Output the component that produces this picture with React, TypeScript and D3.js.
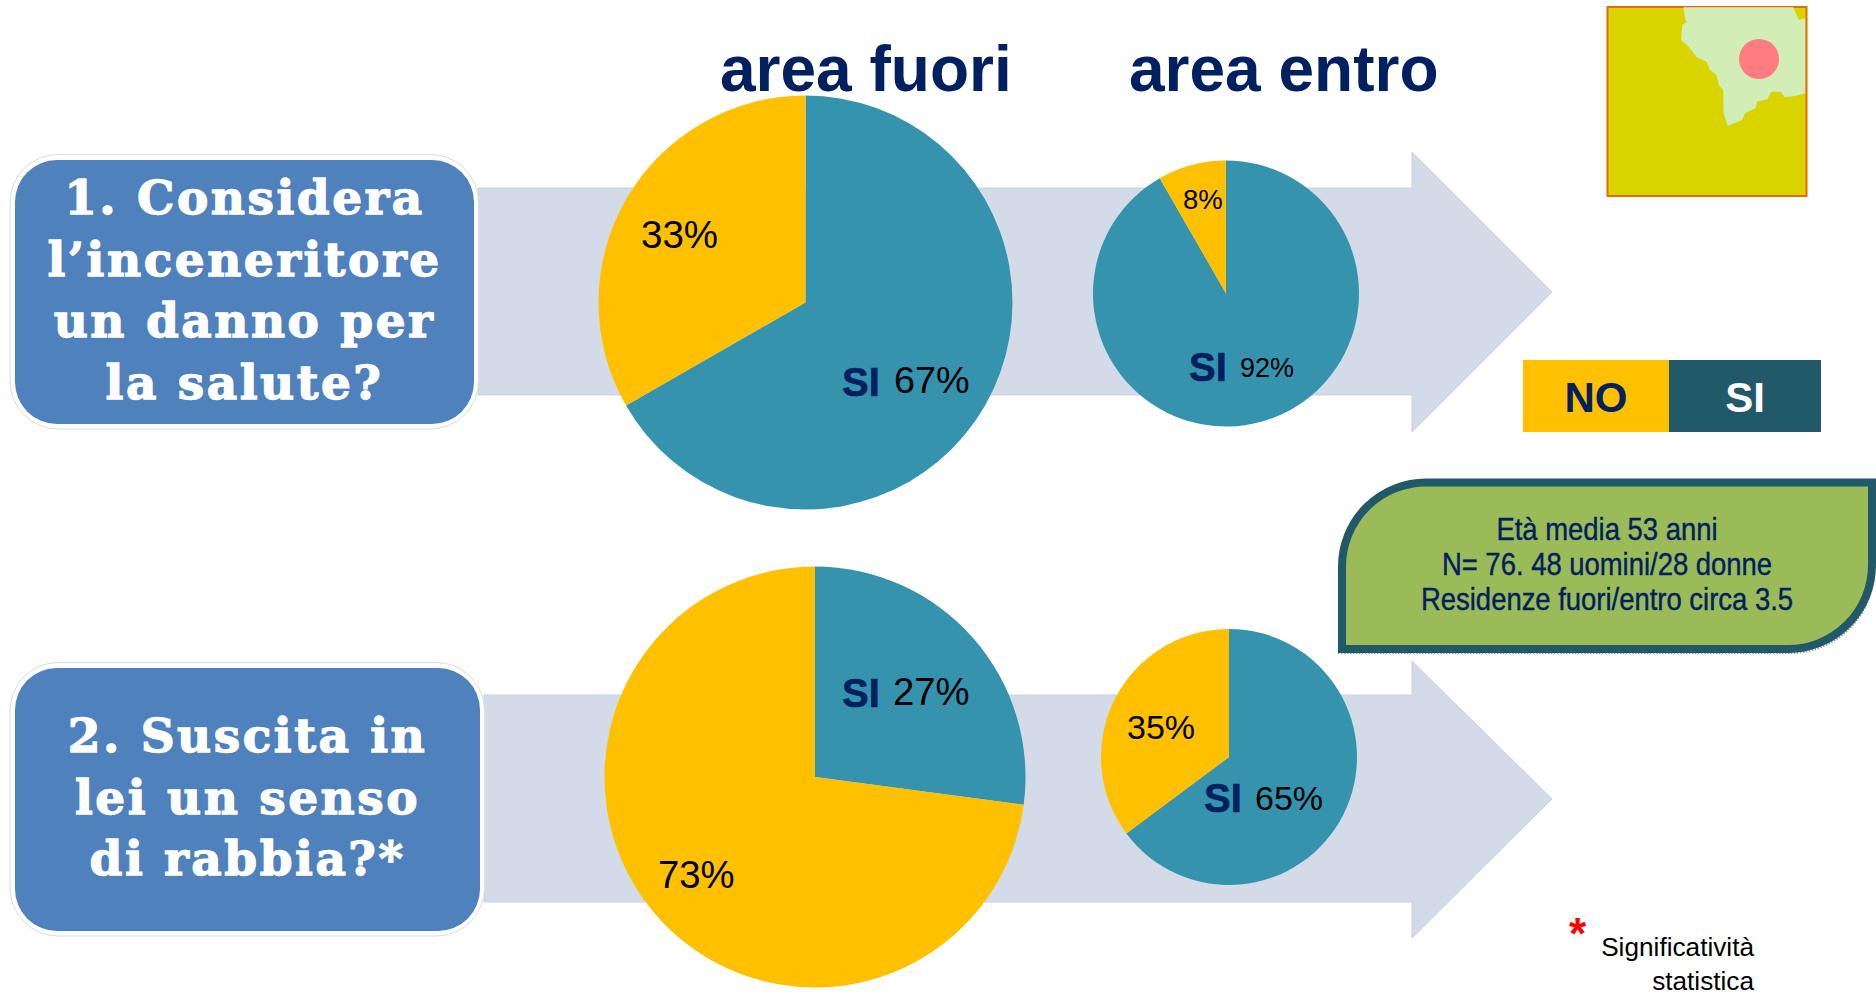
import React from "react";
import * as d3 from "d3";

const W = 1876, H = 995;
const pieKeys = ["SI", "NO"];
const pieColors = ["#3693AE", "#FFC000"];
const q1Fuori = [66.7, 33.3];
const q1Entro = [91.7, 8.3];
const q2Fuori = [27.1, 72.9];
const q2Entro = [64.8, 35.2];
const q1Lines = ["1. Considera", "l’inceneritore", "un danno per", "la salute?"];
const q2Lines = ["2. Suscita in", "lei un senso", "di rabbia?*"];
const noteLines = ["Età media 53 anni", "N= 76. 48 uomini/28 donne", "Residenze fuori/entro circa 3.5"];

const color = d3.scaleOrdinal<string, string>().domain(pieKeys).range(pieColors);
const pieGen = d3.pie<number>().sort(null).value((d) => d);

function Pie({ cx, cy, r, values }: { cx: number; cy: number; r: number; values: number[] }) {
  const arc = d3.arc<d3.PieArcDatum<number>>().innerRadius(0).outerRadius(r);
  return (
    <g transform={`translate(${cx},${cy})`}>
      {pieGen(values).map((a, i) => (
        <path key={i} d={arc(a) as string} fill={color(pieKeys[i])} />
      ))}
    </g>
  );
}

function arrowPath(x0: number, xb: number, xt: number, yt: number, yb: number, hT: number, hB: number, ym: number) {
  const line = d3.line();
  return line([[x0, yt], [xb, yt], [xb, hT], [xt, ym], [xb, hB], [xb, yb], [x0, yb]] as [number, number][]) + "Z";
}

const mapEdge: [number, number][] = [
  [1025,22],[1030,60],[1035,65],[1022,75],[1018,120],[1040,140],[1062,172],[1090,185],[1100,210],[1118,225],[1125,255],[1137,270],[1138,340],[1150,378],[1190,360],[1200,338],[1228,325],[1232,305],[1262,298],[1272,275],[1300,275],[1310,292],[1340,288],[1368,280],[1368,55],[1350,60],[1335,22],
];

const sans = "'Liberation Sans', Arial, sans-serif";
const slab = "'DejaVu Serif', serif";
const navy = "#002060";

function Pct({ x, y, size, t }: { x: number; y: number; size: number; t: string }) {
  return <text x={x} y={y} fontFamily={sans} fontSize={size} fill="#000">{t}</text>;
}
function Si({ x, y, size }: { x: number; y: number; size: number }) {
  return <text x={x} y={y} fontFamily={sans} fontWeight="bold" fontSize={size} fill={navy} stroke={navy} strokeWidth={0.6}>SI</text>;
}

function Box({ x, y, w, h, lines, y0 }: { x: number; y: number; w: number; h: number; lines: string[]; y0: number }) {
  return (
    <g>
      <rect x={x - 5} y={y - 5.5} width={w + 9.5} height={h + 10.5} rx={48} fill="#fff" stroke="#dcdcdc" strokeWidth={1} />
      <rect x={x} y={y} width={w} height={h} rx={42} fill="#4F81BD" />
      {lines.map((l, i) => (
        <text key={i} x={x + w / 2} y={y0 + i * 61.5} textAnchor="middle" fontFamily={slab} fontWeight="bold" fontSize={47} fill="#fff" stroke="#fff" strokeWidth={1.3} letterSpacing={2.5}>{l}</text>
      ))}
    </g>
  );
}

export default function App() {
  return (
    <svg width={W} height={H} viewBox={`0 0 ${W} ${H}`} style={{ position: "absolute", left: 0, top: 0, background: "#fff" }}>
      <path d={arrowPath(478, 1412, 1552, 188, 395, 152, 432, 292)} fill="#D3DAE8" stroke="#C9D2E3" strokeWidth={1} />
      <path d={arrowPath(484, 1412, 1552, 695, 902, 661, 938, 799)} fill="#D3DAE8" stroke="#C9D2E3" strokeWidth={1} />

      <Box x={15} y={160} w={459} h={264} lines={q1Lines} y0={214} />
      <Box x={15} y={668} w={465} h={263} lines={q2Lines} y0={752} />

      <Pie cx={805.5} cy={302.5} r={207} values={q1Fuori} />
      <Pie cx={1226} cy={293.5} r={133} values={q1Entro} />
      <Pie cx={815} cy={777} r={210.5} values={q2Fuori} />
      <Pie cx={1229} cy={757} r={128} values={q2Entro} />

      <text x={720} y={91} fontFamily={sans} fontWeight="bold" fontSize={64} fill={navy}>area fuori</text>
      <text x={1129} y={91} fontFamily={sans} fontWeight="bold" fontSize={64} fill={navy}>area entro</text>

      <Pct x={641} y={248} size={38.5} t="33%" />
      <Si x={842} y={396} size={40} /><Pct x={894} y={393} size={37.8} t="67%" />
      <Pct x={1183} y={209} size={27.5} t="8%" />
      <Si x={1189} y={381} size={40} /><Pct x={1240} y={377} size={27} t="92%" />
      <Si x={842} y={707} size={40} /><Pct x={893} y={705} size={38.3} t="27%" />
      <Pct x={658} y={888} size={38.3} t="73%" />
      <Pct x={1127} y={739} size={34} t="35%" />
      <Si x={1204} y={812} size={40} /><Pct x={1255} y={810} size={34} t="65%" />

      <rect x={1607.5} y={7} width={199} height={189} fill="#D9D400" stroke="#E36C0A" strokeWidth={2} />
      <path d={(d3.line()(mapEdge.map(([a, b]) => [1320 + a / 2.82, b / 3] as [number, number])) as string) + "Z"} fill="#D2EDB6" />
      <circle cx={1759} cy={59} r={20} fill="#FF7C80" />

      <rect x={1523} y={360} width={146} height={72} fill="#FFC000" />
      <rect x={1669} y={360} width={152} height={72} fill="#215968" />
      <text x={1596} y={412} textAnchor="middle" fontFamily={sans} fontWeight="bold" fontSize={42} fill={navy}>NO</text>
      <text x={1745} y={412} textAnchor="middle" fontFamily={sans} fontWeight="bold" fontSize={42} fill="#fff">SI</text>

      <path d="M1338,653 H1790 A84,84 0 0 0 1874,575" fill="none" stroke="#999" strokeWidth={2} strokeDasharray="1.5 1.5" />
      <path d="M1342,649 V566 A84,84 0 0 1 1426,482.5 H1872 V565 A84,84 0 0 1 1788,649 Z" fill="#9BBB59" stroke="#215968" strokeWidth={8} />
      {noteLines.map((l, i) => (
        <text key={i} transform={`translate(1607,${539.5 + i * 35}) scale(0.885,1)`} textAnchor="middle" fontFamily={sans} fontSize={31} fill={navy} stroke={navy} strokeWidth={0.4}>{l}</text>
      ))}

      <text x={1569} y={949} fontFamily={sans} fontWeight="bold" fontSize={44} fill="#FF0000">*</text>
      <text x={1754} y={956} textAnchor="end" fontFamily={sans} fontSize={26.2} fill="#000">Significatività</text>
      <text x={1754} y={990} textAnchor="end" fontFamily={sans} fontSize={26.2} fill="#000">statistica</text>
    </svg>
  );
}
